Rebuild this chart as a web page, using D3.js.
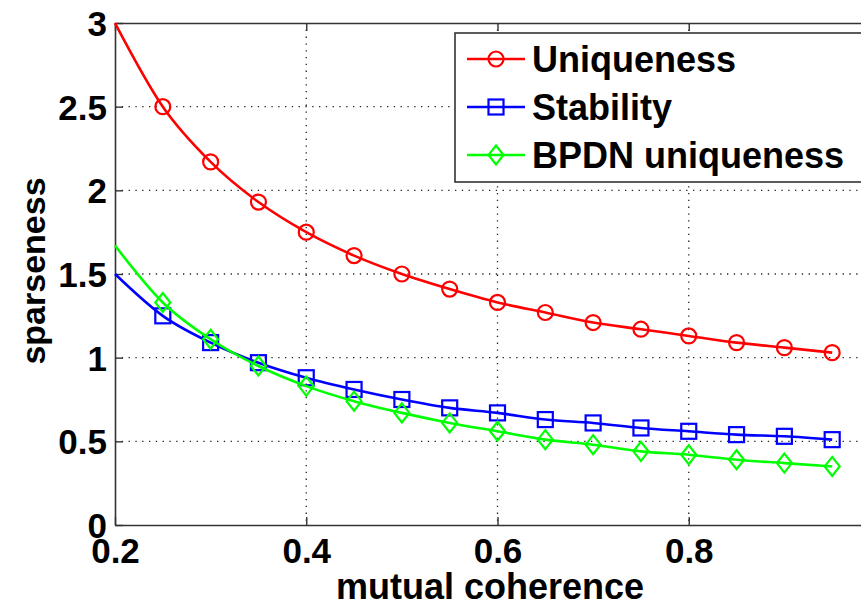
<!DOCTYPE html>
<meta charset="utf-8">
<style>
    body { margin: 0; background: #fff; }
    svg { display: block; }
    text { font-family: "Liberation Sans", Arial, sans-serif; font-weight: bold; fill: #000; }
    .grid line { stroke: #222; stroke-width: 1.3; stroke-dasharray: 1.3,5.5; }
</style>
<svg width="861" height="606"></svg>
<script src="https://cdn.jsdelivr.net/npm/d3@7"></script>
<script>

    var mu = [0.2, 0.25, 0.3, 0.35, 0.4, 0.45, 0.5, 0.55, 0.6, 0.65, 0.7, 0.75, 0.8, 0.85, 0.9, 0.95];
    var uniqueness = [3.0, 2.5, 2.17, 1.93, 1.75, 1.61, 1.5, 1.41, 1.33, 1.27, 1.21, 1.17, 1.13, 1.09, 1.06, 1.03];
    var stability = [1.5, 1.25, 1.09, 0.97, 0.88, 0.81, 0.75, 0.70, 0.67, 0.63, 0.61, 0.58, 0.56, 0.54, 0.53, 0.51];
    var bpdn = [1.67, 1.33, 1.11, 0.95, 0.83, 0.74, 0.67, 0.61, 0.56, 0.51, 0.48, 0.44, 0.42, 0.39, 0.37, 0.35];
    var xTicks = [0.2, 0.4, 0.6, 0.8];
    var yTicks = [0, 0.5, 1, 1.5, 2, 2.5, 3];

    var series = [
        {name: "Uniqueness", values: uniqueness, color: "#ff0000", marker: "circle"},
        {name: "Stability", values: stability, color: "#0000ff", marker: "square"},
        {name: "BPDN uniqueness", values: bpdn, color: "#00ff00", marker: "diamond"}
    ];

    var svg = d3.select("svg");
    var plot = {left: 115, right: 880, top: 23, bottom: 525};

    var x = d3.scaleLinear().domain([0.2, 1.0]).range([plot.left, plot.right]);
    var y = d3.scaleLinear().domain([0, 3]).range([plot.bottom, plot.top]);

    // grid
    var grid = svg.append("g").attr("class", "grid");
    grid.selectAll(".gx").data(xTicks.slice(1)).enter().append("line")
        .attr("x1", function(d) { return x(d); }).attr("x2", function(d) { return x(d); })
        .attr("y1", plot.top).attr("y2", plot.bottom);
    grid.selectAll(".gy").data(yTicks.slice(1, -1)).enter().append("line")
        .attr("x1", plot.left).attr("x2", plot.right)
        .attr("y1", function(d) { return y(d); }).attr("y2", function(d) { return y(d); });

    // axes (MATLAB box with inward ticks)
    var xAxis = svg.append("g")
        .attr("transform", "translate(0," + plot.bottom + ")")
        .call(d3.axisBottom(x).tickValues(xTicks).tickSizeInner(-8).tickSizeOuter(0).tickPadding(13).tickFormat(d3.format(".1f")));
    svg.append("g")
        .attr("transform", "translate(0," + plot.top + ")")
        .call(d3.axisTop(x).tickValues(xTicks).tickSizeInner(-8).tickSizeOuter(0).tickFormat(""));
    var yAxis = svg.append("g")
        .attr("transform", "translate(" + plot.left + ",0)")
        .call(d3.axisLeft(y).tickValues(yTicks).tickSizeInner(-8).tickSizeOuter(0).tickPadding(8).tickFormat(function(d) { return d; }));

    svg.selectAll(".domain").attr("stroke", "#333").attr("stroke-width", 1.6);
    svg.selectAll(".tick line").attr("stroke", "#333").attr("stroke-width", 1.4);
    xAxis.selectAll("text").style("font-size", "35px").attr("fill", "#000").attr("dy", "0.71em");
    yAxis.selectAll("text").style("font-size", "35px").attr("fill", "#000").attr("dy", "0.36em");

    // lines
    var line = d3.line()
        .x(function(d) { return x(d[0]); })
        .y(function(d) { return y(d[1]); })
        .curve(d3.curveMonotoneX);

    function drawMarker(sel, type, color) {
        if (type === "circle") {
            sel.append("circle").attr("r", 7.5);
        } else if (type === "square") {
            sel.append("rect").attr("x", -7.5).attr("y", -7.5).attr("width", 15).attr("height", 15);
        } else {
            sel.append("path").attr("d", "M0,-9.5L7.5,0L0,9.5L-7.5,0Z");
        }
        sel.selectAll("*").attr("fill", "none").attr("stroke", color).attr("stroke-width", 2.2);
    }

    series.forEach(function(s) {
        var pts = mu.map(function(m, i) { return [m, s.values[i]]; });
        svg.append("path")
            .datum(pts)
            .attr("fill", "none")
            .attr("stroke", s.color)
            .attr("stroke-width", 2.6)
            .attr("d", line);
        svg.selectAll(null)
            .data(pts.slice(1))
            .enter().append("g")
            .attr("transform", function(d) { return "translate(" + x(d[0]) + "," + y(d[1]) + ")"; })
            .each(function() { drawMarker(d3.select(this), s.marker, s.color); });
    });

    // legend
    var legend = svg.append("g");
    legend.append("rect")
        .attr("x", 455).attr("y", 33).attr("width", 420).attr("height", 149)
        .attr("fill", "#fff").attr("stroke", "#333").attr("stroke-width", 1.6);
    series.forEach(function(s, i) {
        var ly = 59 + i * 48;
        legend.append("line")
            .attr("x1", 467).attr("x2", 525).attr("y1", ly).attr("y2", ly)
            .attr("stroke", s.color).attr("stroke-width", 2.4);
        var m = legend.append("g").attr("transform", "translate(496," + ly + ")");
        drawMarker(m, s.marker, s.color);
        legend.append("text")
            .attr("x", 532).attr("y", ly).attr("dy", "0.36em")
            .style("font-size", "36px")
            .text(s.name);
    });

    // axis labels
    svg.append("text")
        .attr("x", 490).attr("y", 599)
        .attr("text-anchor", "middle")
        .style("font-size", "36px")
        .text("mutual coherence");
    svg.append("text")
        .attr("transform", "translate(45,271) rotate(-90)")
        .attr("text-anchor", "middle")
        .style("font-size", "34px")
        .text("sparseness");
</script>
